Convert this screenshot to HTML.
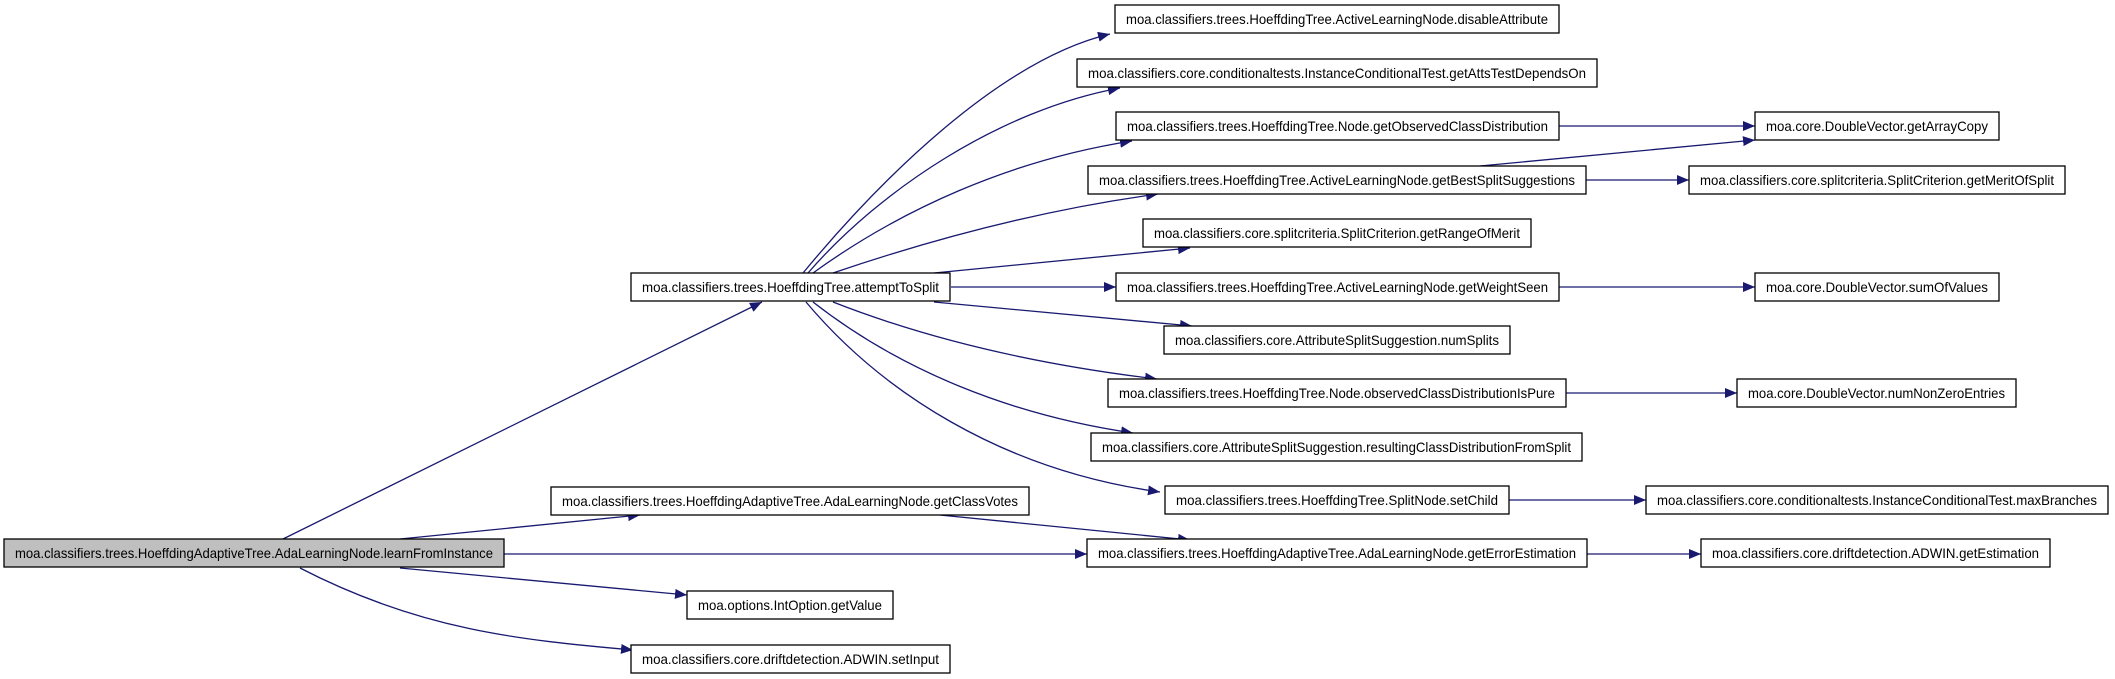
<!DOCTYPE html>
<html><head><meta charset="utf-8"><style>
html,body{margin:0;padding:0;background:#fff;}
svg{display:block;}
text{font-family:"Liberation Sans",sans-serif;font-size:14px;fill:#000;}
</style></head><body>
<svg width="2115" height="679" viewBox="0 0 2115 679" xmlns="http://www.w3.org/2000/svg">
<defs>
<marker id="a" markerWidth="12" markerHeight="10" refX="12" refY="5" orient="auto" markerUnits="userSpaceOnUse">
<path d="M0,0 L12,5 L0,10 Z" fill="#191970"/>
</marker>
</defs>
<g fill="none" stroke="#191970" stroke-width="1.3" marker-end="url(#a)">
<!-- learnFromInstance edges -->
<path d="M283,539 L762,302"/>
<path d="M400,539 L640,515"/>
<path d="M504,554 L1087,554"/>
<path d="M400,568 L687,595"/>
<path d="M300,568 C420,630 520,640 633,650"/>
<path d="M940,515 L1190,540"/>
<!-- attemptToSplit edges -->
<path d="M803,273 C880,180 1000,60 1110,34"/>
<path d="M808,273 C880,190 1000,110 1120,88"/>
<path d="M813,273 C900,210 1010,160 1132,141"/>
<path d="M833,273 C930,240 1040,210 1158,194"/>
<path d="M934,273 L1190,248"/>
<path d="M951,287 L1116,287"/>
<path d="M934,302 L1192,326"/>
<path d="M833,302 C930,340 1040,365 1157,379"/>
<path d="M813,302 C900,370 1010,415 1133,433"/>
<path d="M806,302 C880,390 1000,470 1160,492"/>
<!-- right edges -->
<path d="M1559,126 L1755,126"/>
<path d="M1480,166 L1755,140"/>
<path d="M1586,180 L1689,180"/>
<path d="M1559,287 L1755,287"/>
<path d="M1566,393 L1737,393"/>
<path d="M1509,500 L1646,500"/>
<path d="M1587,554 L1701,554"/>
</g>
<g stroke="#000" stroke-width="1.3" fill="#fff">
<rect x="4" y="539" width="500" height="28" fill="#bfbfbf"/>
<rect x="631" y="273" width="319" height="28"/>
<rect x="551" y="487" width="478" height="28"/>
<rect x="687" y="591" width="206" height="28"/>
<rect x="631" y="645" width="319" height="28"/>
<rect x="1115" y="5" width="444" height="28"/>
<rect x="1077" y="59" width="520" height="28"/>
<rect x="1116" y="112" width="443" height="28"/>
<rect x="1088" y="166" width="498" height="28"/>
<rect x="1143" y="219" width="388" height="28"/>
<rect x="1116" y="273" width="443" height="28"/>
<rect x="1164" y="326" width="346" height="28"/>
<rect x="1108" y="379" width="458" height="28"/>
<rect x="1091" y="433" width="491" height="28"/>
<rect x="1165" y="486" width="344" height="28"/>
<rect x="1087" y="539" width="500" height="28"/>
<rect x="1755" y="112" width="244" height="28"/>
<rect x="1689" y="166" width="376" height="28"/>
<rect x="1755" y="273" width="244" height="28"/>
<rect x="1737" y="379" width="279" height="28"/>
<rect x="1646" y="486" width="462" height="28"/>
<rect x="1701" y="539" width="349" height="28"/>
</g>
<g text-anchor="middle" lengthAdjust="spacingAndGlyphs">
<text x="254" y="558" textLength="478" lengthAdjust="spacingAndGlyphs">moa.classifiers.trees.HoeffdingAdaptiveTree.AdaLearningNode.learnFromInstance</text>
<text x="790.5" y="292" textLength="297" lengthAdjust="spacingAndGlyphs">moa.classifiers.trees.HoeffdingTree.attemptToSplit</text>
<text x="790" y="506" textLength="456" lengthAdjust="spacingAndGlyphs">moa.classifiers.trees.HoeffdingAdaptiveTree.AdaLearningNode.getClassVotes</text>
<text x="790" y="610" textLength="184" lengthAdjust="spacingAndGlyphs">moa.options.IntOption.getValue</text>
<text x="790.5" y="664" textLength="297" lengthAdjust="spacingAndGlyphs">moa.classifiers.core.driftdetection.ADWIN.setInput</text>
<text x="1337" y="24" textLength="422" lengthAdjust="spacingAndGlyphs">moa.classifiers.trees.HoeffdingTree.ActiveLearningNode.disableAttribute</text>
<text x="1337" y="78" textLength="498" lengthAdjust="spacingAndGlyphs">moa.classifiers.core.conditionaltests.InstanceConditionalTest.getAttsTestDependsOn</text>
<text x="1337.5" y="131" textLength="421" lengthAdjust="spacingAndGlyphs">moa.classifiers.trees.HoeffdingTree.Node.getObservedClassDistribution</text>
<text x="1337" y="185" textLength="476" lengthAdjust="spacingAndGlyphs">moa.classifiers.trees.HoeffdingTree.ActiveLearningNode.getBestSplitSuggestions</text>
<text x="1337" y="238" textLength="366" lengthAdjust="spacingAndGlyphs">moa.classifiers.core.splitcriteria.SplitCriterion.getRangeOfMerit</text>
<text x="1337.5" y="292" textLength="421" lengthAdjust="spacingAndGlyphs">moa.classifiers.trees.HoeffdingTree.ActiveLearningNode.getWeightSeen</text>
<text x="1337" y="345" textLength="324" lengthAdjust="spacingAndGlyphs">moa.classifiers.core.AttributeSplitSuggestion.numSplits</text>
<text x="1337" y="398" textLength="436" lengthAdjust="spacingAndGlyphs">moa.classifiers.trees.HoeffdingTree.Node.observedClassDistributionIsPure</text>
<text x="1336.5" y="452" textLength="469" lengthAdjust="spacingAndGlyphs">moa.classifiers.core.AttributeSplitSuggestion.resultingClassDistributionFromSplit</text>
<text x="1337" y="505" textLength="322" lengthAdjust="spacingAndGlyphs">moa.classifiers.trees.HoeffdingTree.SplitNode.setChild</text>
<text x="1337" y="558" textLength="478" lengthAdjust="spacingAndGlyphs">moa.classifiers.trees.HoeffdingAdaptiveTree.AdaLearningNode.getErrorEstimation</text>
<text x="1877" y="131" textLength="222" lengthAdjust="spacingAndGlyphs">moa.core.DoubleVector.getArrayCopy</text>
<text x="1877" y="185" textLength="354" lengthAdjust="spacingAndGlyphs">moa.classifiers.core.splitcriteria.SplitCriterion.getMeritOfSplit</text>
<text x="1877" y="292" textLength="222" lengthAdjust="spacingAndGlyphs">moa.core.DoubleVector.sumOfValues</text>
<text x="1876.5" y="398" textLength="257" lengthAdjust="spacingAndGlyphs">moa.core.DoubleVector.numNonZeroEntries</text>
<text x="1877" y="505" textLength="440" lengthAdjust="spacingAndGlyphs">moa.classifiers.core.conditionaltests.InstanceConditionalTest.maxBranches</text>
<text x="1875.5" y="558" textLength="327" lengthAdjust="spacingAndGlyphs">moa.classifiers.core.driftdetection.ADWIN.getEstimation</text>
</g>
</svg>
</body></html>
